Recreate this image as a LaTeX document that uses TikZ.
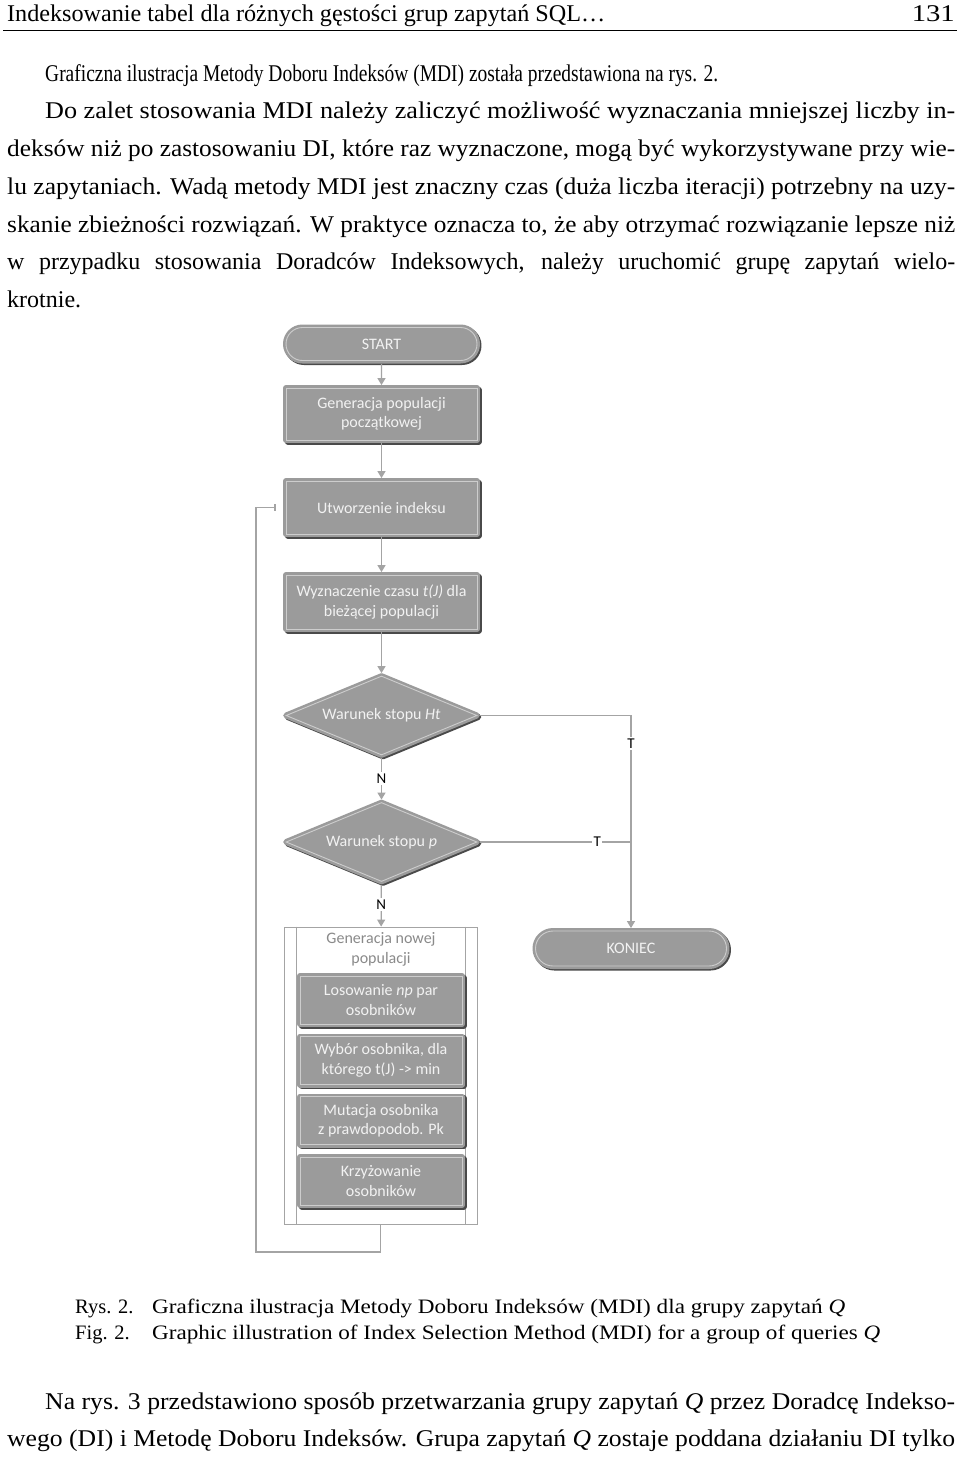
\documentclass[tikz,border=0pt]{standalone}
\usepackage{graphicx}
\usepackage{fontspec}
\newfontfamily\pagefont{Liberation Serif}
\newfontfamily\boxfont{Carlito}
\usetikzlibrary{shapes.geometric,shapes.misc,arrows.meta}
\definecolor{boxgray}{HTML}{9B9B9B}
\definecolor{boxhi}{HTML}{CDCDCD}
\definecolor{boxsh}{HTML}{4A4A4A}
\definecolor{linegray}{HTML}{A4A4A4}
\definecolor{titlegray}{HTML}{8A8A8A}
\definecolor{boxtext}{HTML}{F2F2F2}
\newcommand\myfitw[2]{\setbox0=\hbox{#2}\ifdim\wd0>#1\relax\resizebox{#1}{\height}{\box0}\else\makebox[#1][s]{#2}\fi}
\newcommand\myscalew[2]{\resizebox{#1}{\height}{#2}}
\begin{document}
\begin{tikzpicture}[x=1pt,y=-1pt,
  fcbase/.style={fill=boxgray, draw=boxhi, line width=0.9pt, text=boxtext,
    font=\boxfont\fontsize{16}{19.5}\selectfont, align=center, inner sep=0pt,
    preaction={draw=boxsh, fill=boxsh, line width=6pt, line join=round,
      transform canvas={shift={(1.5pt,-1.5pt)}}},
    preaction={draw=boxgray, line width=6pt, line join=round}},
  procbox/.style={fcbase, rectangle, minimum width=191pt},
  pill/.style={fcbase, rounded rectangle, minimum width=191pt, minimum height=33pt},
  decbox/.style={fcbase, diamond, aspect=2.42, minimum width=191pt, minimum height=79pt},
  subbox/.style={fcbase, rectangle, minimum width=162pt, minimum height=48pt},
  arr/.style={draw=linegray, line width=1.3pt, -{Triangle[width=8pt,length=7pt]},
    shorten >=2.5pt, shorten <=3pt},
  loopl/.style={draw=linegray, line width=1.3pt, -{Bar[width=7pt]}, shorten >=10pt},
  grpline/.style={draw=linegray, line width=0.9pt},
  lbl/.style={fill=white, inner sep=1.5pt, text=black, font=\boxfont\fontsize{15}{15}\selectfont},
  pgline/.style={anchor=base west, inner sep=0pt, font=\pagefont\fontsize{24}{24}\selectfont},
  captxt/.style={anchor=base west, inner sep=0pt, font=\pagefont\fontsize{20.5}{20.5}\selectfont}
]
\useasboundingbox[fill=white] (0,0) rectangle (960,1460);

% running head
\node[pgline] (h1) at (7,21) {\myscalew{598pt}{Indeksowanie tabel dla różnych gęstości grup zapytań SQL…}};
\node[pgline, anchor=base east] (h2) at (955,21) {\myscalew{43pt}{131}};
\draw[line width=1.6pt] (3,30.5) -- (957,30.5);

% paragraph
\node[pgline] (t1) at (45,81) {\myscalew{673pt}{Graficzna ilustracja Metody Doboru Indeksów (MDI) została przedstawiona na rys. 2.}};
\node[pgline] (t2) at (45,118.5) {\myscalew{910pt}{Do zalet stosowania MDI należy zaliczyć możliwość wyznaczania mniejszej liczby in-}};
\node[pgline] (t3) at (7,156) {\myscalew{948pt}{deksów niż po zastosowaniu DI, które raz wyznaczone, mogą być wykorzystywane przy wie-}};
\node[pgline] (t4) at (7,194) {\myscalew{948pt}{lu zapytaniach. Wadą metody MDI jest znaczny czas (duża liczba iteracji) potrzebny na uzy-}};
\node[pgline] (t5) at (7,232) {\myscalew{948pt}{skanie zbieżności rozwiązań. W praktyce oznacza to, że aby otrzymać rozwiązanie lepsze niż}};
\node[pgline] (t6) at (7,269.5) {\myfitw{948pt}{w przypadku stosowania Doradców Indeksowych, należy uruchomić grupę zapytań wielo-}};
\node[pgline] (t7) at (7,307) {krotnie.};

% flowchart
\node[pill] (start) at (381.5,344) {START};
\node[procbox, minimum height=52pt] (gen) at (381.5,414) {Generacja populacji\\początkowej};
\node[procbox, minimum height=53pt] (utw) at (381.5,507.5) {Utworzenie indeksu};
\node[procbox, minimum height=54pt] (wyz) at (381.5,602) {Wyznaczenie czasu \textit{t(J)} dla\\bieżącej populacji};
\node[decbox] (d1) at (381.5,715.5) {Warunek stopu \textit{Ht}};
\node[decbox] (d2) at (381.5,842) {Warunek stopu \textit{p}};
\node[pill, minimum height=35pt] (kon) at (631,948.5) {KONIEC};

\node[draw=linegray, line width=0.9pt, minimum width=193pt, minimum height=297pt, inner sep=0pt] (grp) at (380.5,1075.5) {};
\draw[grpline] ([xshift=13pt]grp.north west) -- ([xshift=13pt]grp.south west);
\draw[grpline] ([xshift=-12pt]grp.north east) -- ([xshift=-12pt]grp.south east);
\node[font=\boxfont\fontsize{16}{19.5}\selectfont, text=titlegray, align=center, inner sep=0pt] (gt) at (381,949.5) {Generacja nowej\\populacji};
\node[subbox] (los) at (381,1000) {Losowanie \textit{np} par\\osobników};
\node[subbox] (wyb) at (381,1060.5) {Wybór osobnika, dla\\którego t(J) -{>} min};
\node[subbox] (mut) at (381,1120.5) {Mutacja osobnika\\z prawdopodob. Pk};
\node[subbox] (krz) at (381,1181) {Krzyżowanie\\osobników};

\draw[arr] (start) -- (gen);
\draw[arr] (gen) -- (utw);
\draw[arr] (utw) -- (wyz);
\draw[arr] (wyz) -- (d1);
\draw[arr] (d1) -- node[lbl]{N} (d2);
\draw[arr, shorten >=0pt] (d2) -- node[lbl]{N} (grp);
\draw[arr] (d1.east) -| node[lbl, pos=0.565]{T} (kon.north);
\draw[draw=linegray, line width=1.3pt, shorten <=3pt] (d2.east) -- node[lbl, pos=0.78]{T} (d2.east -| kon.north);

\coordinate (lp) at (256,1252);
\draw[loopl] (grp.south) |- (lp) -- (lp |- utw.west) -- (utw.west);

% captions
\node[captxt] (r1) at (75,1313) {Rys. 2.};
\node[captxt] (r2) at (152,1313) {\myscalew{693pt}{Graficzna ilustracja Metody Doboru Indeksów (MDI) dla grupy zapytań \textit{Q}}};
\node[captxt] (f1) at (75,1339) {Fig. 2.};
\node[captxt] (f2) at (152,1339) {\myscalew{728pt}{Graphic illustration of Index Selection Method (MDI) for a group of queries \textit{Q}}};

% following text
\node[pgline] (b1) at (45,1409) {\myscalew{910pt}{Na rys. 3 przedstawiono sposób przetwarzania grupy zapytań \textit{Q} przez Doradcę Indekso-}};
\node[pgline] (b2) at (7,1446) {\myscalew{948pt}{wego (DI) i Metodę Doboru Indeksów. Grupa zapytań \textit{Q} zostaje poddana działaniu DI tylko}};
\end{tikzpicture}
\end{document}
